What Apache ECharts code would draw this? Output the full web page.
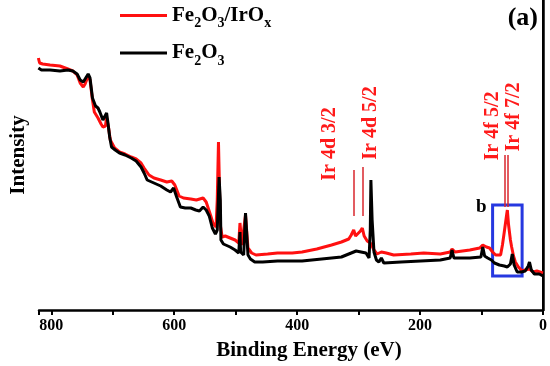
<!DOCTYPE html>
<html>
<head>
<meta charset="utf-8">
<script src="https://cdn.jsdelivr.net/npm/echarts@6/dist/echarts.min.js"></script>
<style>html,body{margin:0;padding:0;background:#fff}#c{width:550px;height:366px}</style>
</head>
<body>
<div id="c"></div>
<script>
// Binding energy (eV) and intensity (a.u.)
var energyRed = [821,819,814,802,786,773,765,758,753,748,745,740,737,733,730,724,719,716,712,710,707,704,697,689,680,670,662,654,649,641,633,622,612,604,599,592,585,573,564,553,548,541,537,532,530,528,527,525,522,517,509,501,495,493,490,487,484,480,474,467,448,432,408,392,368,344,328,316,312,308,305,302,297,294,291,286,281,278,275,270,263,255,243,215,194,167,151,148,143,119,103,98,92,87,82,77,69,66,63,59,58,56,53,51,48,45,40,34,29,22,16,10,5,0];
var intensityRed = [252,247,246,245,244,241,239,235,227,223,226,234,230,210,198,192,186,183,184,192,183,170,162,158,156,153,151,147,142,135,132,130,128,129,125,114,112,111,110,112,108,95,87,83,110,168,140,85,73,74,72,70,67,87,65,64,95,62,57,55,56,57,57,58,61,65,68,71,75,80,74,73,79,82,74,69,67,64,60,56,58,57,55,56,57,56,58,61,58,60,62,65,63,62,58,55,55,65,78,96,100,85,70,63,54,48,43,39,40,41,38,39,38,37];
var energyBlack = [821,816,802,786,773,765,758,753,748,745,740,737,733,728,724,721,716,710,708,705,702,696,689,680,670,662,654,649,644,633,622,612,606,601,596,590,582,573,565,559,553,548,543,538,533,530,528,527,525,524,520,517,509,501,495,493,492,487,484,480,476,469,456,432,392,360,328,304,296,288,283,281,280,278,275,271,267,263,259,231,199,167,151,148,145,119,101,98,95,90,84,79,71,63,58,53,50,47,42,35,29,24,22,19,14,6,0];
var intensityBlack = [242,240,240,239,240,239,236,230,228,230,236,232,212,204,202,198,190,197,188,173,163,160,157,155,152,149,143,137,130,127,124,120,118,122,113,103,102,102,100,99,103,100,94,82,76,80,115,133,110,70,66,68,63,60,57,78,58,55,97,55,51,48,48,49,49,51,53,59,58,57,52,80,130,90,58,50,48,52,47,48,49,50,52,60,52,52,53,63,54,52,50,47,45,44,43,46,56,45,38,38,39,44,48,40,36,36,34];
// Ir peak markers and labels
var irLabels = ['Ir 4d 3/2','Ir 4d 5/2','Ir 4f 5/2','Ir 4f 7/2'];
var irLabelEnergy = [347,280,82,48];
var irLabelIntensity = [166,187,184,193];
var irLineEnergy = [308,294,62,58];
var irLineTop = [140,143,155,155];
var irLineBottom = [94,94,103,103];
// highlighted region "b"
var boxEnergy = [82,34];
var boxIntensity = [105,34];
var xTicks = [0,200,400,600,800];

var FONT = '"Liberation Serif","Times New Roman",serif';
function zip(a,b){return a.map(function(v,i){return [v,b[i]];});}

var chart = echarts.init(document.getElementById('c'), null, {renderer:'canvas'});
var richStyles = {
  m:{fontFamily:FONT,fontWeight:'bold',fontSize:21,color:'#000',lineHeight:30,verticalAlign:'middle'},
  s:{fontFamily:FONT,fontWeight:'bold',fontSize:14,color:'#000',lineHeight:30,verticalAlign:'bottom'}
};
chart.setOption({
  animation:false,
  title:{text:'(a)',right:12,top:5,padding:0,textStyle:{fontFamily:FONT,fontWeight:'bold',fontSize:26,color:'#000'}},
  legend:{
    orient:'vertical',left:120,top:5,padding:0,itemWidth:47,itemHeight:3,itemGap:12,
    data:[{name:'Fe2O3/IrOx',icon:'rect'},{name:'Fe2O3',icon:'rect'}],
    formatter:function(n){return n==='Fe2O3/IrOx'?'{m|Fe}{s|2}{m|O}{s|3}{m|/IrO}{s|x}':'{m|Fe}{s|2}{m|O}{s|3}';},
    textStyle:{rich:richStyles}
  },
  grid:{left:33,right:6,top:0,bottom:56},
  xAxis:{
    type:'value',inverse:true,min:0,max:820,interval:200,
    name:'Binding Energy (eV)',nameLocation:'middle',nameGap:30,
    nameTextStyle:{fontFamily:FONT,fontWeight:'bold',fontSize:21,color:'#000',padding:[0,0,0,36]},
    axisLine:{lineStyle:{color:'#000',width:2.5}},
    axisTick:{inside:false,length:5,lineStyle:{width:2,color:'#000'}},
    minorTick:{show:true,splitNumber:2,length:5,lineStyle:{width:2,color:'#000'}},
    axisLabel:{margin:8,fontFamily:FONT,fontWeight:'bold',fontSize:16,color:'#000',
      formatter:function(v){return xTicks.indexOf(v)>=0?String(v):'';}},
    splitLine:{show:false}
  },
  yAxis:[{
    type:'value',min:0,max:310,
    name:'Intensity',nameLocation:'middle',nameGap:10,
    nameTextStyle:{fontFamily:FONT,fontWeight:'bold',fontSize:21,color:'#000'},
    axisLine:{show:true,lineStyle:{color:'#000',width:2.5}},
    axisTick:{show:false},axisLabel:{show:false},splitLine:{show:false}
  },{
    type:'value',min:0,max:310,position:'right',
    axisLine:{show:true,lineStyle:{color:'#000',width:2}},
    axisTick:{show:false},axisLabel:{show:false},splitLine:{show:false}
  }],
  series:[{
    name:'Fe2O3/IrOx',type:'line',symbol:'none',data:zip(energyRed,intensityRed),
    lineStyle:{color:'#ff1010',width:3},itemStyle:{color:'#ff1010'},z:2,
    markLine:{silent:true,symbol:'none',label:{show:false},
      lineStyle:{color:'#d8262c',width:1.5,type:'solid'},
      data:irLineEnergy.map(function(e,i){return [{coord:[e,irLineTop[i]]},{coord:[e,irLineBottom[i]]}];})},
    markPoint:{silent:true,symbol:'circle',symbolSize:0,
      label:{show:true,position:'inside',rotate:90,color:'#ff1a1a',fontFamily:FONT,fontWeight:'bold',fontSize:20,
        formatter:function(p){return p.name;}},
      data:irLabels.map(function(t,i){return {name:t,coord:[irLabelEnergy[i],irLabelIntensity[i]]};})}
  },{
    name:'Fe2O3',type:'line',symbol:'none',data:zip(energyBlack,intensityBlack),
    lineStyle:{color:'#000',width:3},itemStyle:{color:'#000'},z:3,
    markArea:{silent:true,
      itemStyle:{color:'rgba(0,0,0,0)',borderColor:'#2638e0',borderWidth:3},
      label:{show:true,position:[-15,-6],formatter:'b',color:'#000',fontFamily:FONT,fontWeight:'bold',fontSize:19},
      data:[[{coord:[boxEnergy[0],boxIntensity[0]]},{coord:[boxEnergy[1],boxIntensity[1]]}]]}
  }]
});
</script>
</body>
</html>
